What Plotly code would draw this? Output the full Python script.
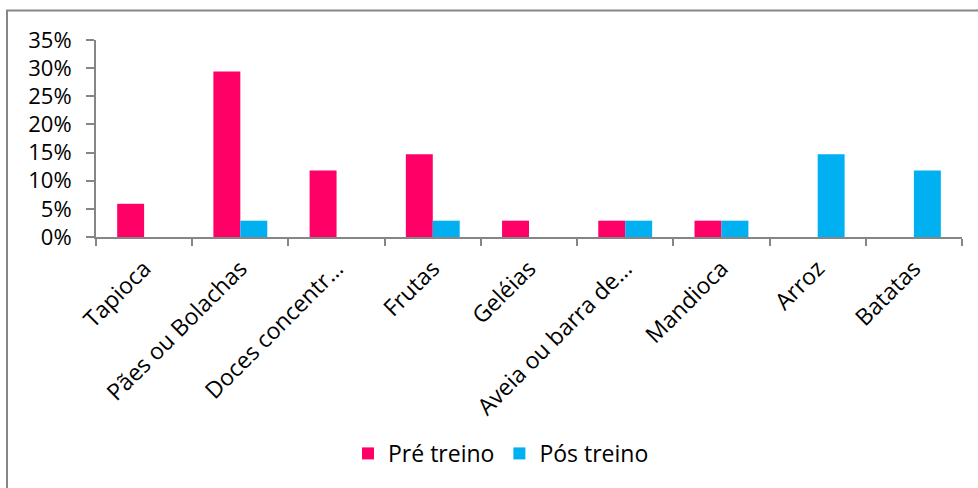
import plotly.graph_objects as go

categories = ["Tapioca", "Pães ou Bolachas", "Doces concentr…", "Frutas", "Geléias",
              "Aveia ou barra de…", "Mandioca", "Arroz", "Batatas"]
pre_treino = [0.059, 0.294, 0.118, 0.147, 0.029, 0.029, 0.029, 0.0, 0.0]
pos_treino = [0.0, 0.029, 0.0, 0.029, 0.0, 0.029, 0.029, 0.147, 0.118]
series_names = ["Pré treino", "Pós treino"]
y_ticks = [0, 0.05, 0.10, 0.15, 0.20, 0.25, 0.30, 0.35]

FONT = "Open Sans"
AXIS = "#868686"
FS = 23

fig = go.Figure()
fig.add_trace(go.Bar(x=categories, y=pre_treino, name=series_names[0],
                     marker=dict(color="#FF0066", line=dict(width=0))))
fig.add_trace(go.Bar(x=categories, y=pos_treino, name=series_names[1],
                     marker=dict(color="#00B0F0", line=dict(width=0))))

W, H = 978, 488
L, R, T, B = 96, 16, 39.5, 251
pw, ph = W - L - R, H - T - B

fig.update_layout(
    width=W, height=H,
    margin=dict(l=L, r=R, t=T, b=B, pad=0),
    paper_bgcolor="white", plot_bgcolor="white",
    barmode="group", bargap=0.44, bargroupgap=0,
    font=dict(family=FONT, size=FS, color="black"),
    showlegend=True,
    legend=dict(orientation="h", x=(501 - L) / pw, xanchor="center",
                y=(H - B - 454) / ph, yanchor="middle",
                font=dict(family=FONT, size=FS, color="black"),
                itemwidth=30, traceorder="normal"),
    xaxis=dict(showline=True, linecolor=AXIS, linewidth=2,
               ticks="outside", ticklen=7, tickcolor=AXIS, tickwidth=2,
               tickson="boundaries", tickangle=-45, showgrid=False,
               ticklabelstandoff=7,
               tickfont=dict(family=FONT, size=FS, color="black")),
    yaxis=dict(range=[0, 0.35], tickvals=y_ticks, tickformat=".0%",
               showline=True, linecolor=AXIS, linewidth=2,
               ticks="outside", ticklen=8, tickcolor=AXIS, tickwidth=2,
               showgrid=False, zeroline=False, ticklabelstandoff=10,
               tickfont=dict(family=FONT, size=22, color="black")),
)

# chart-area border (extends past the right and bottom of the view)
fig.add_shape(type="rect", xref="paper", yref="paper",
              x0=(7 - L) / pw, x1=(W + 20 - L) / pw,
              y0=(H - B - (H + 20)) / ph, y1=(H - B - 10) / ph,
              line=dict(color=AXIS, width=2), fillcolor="rgba(0,0,0,0)", layer="below")

fig.write_html("out.html")
